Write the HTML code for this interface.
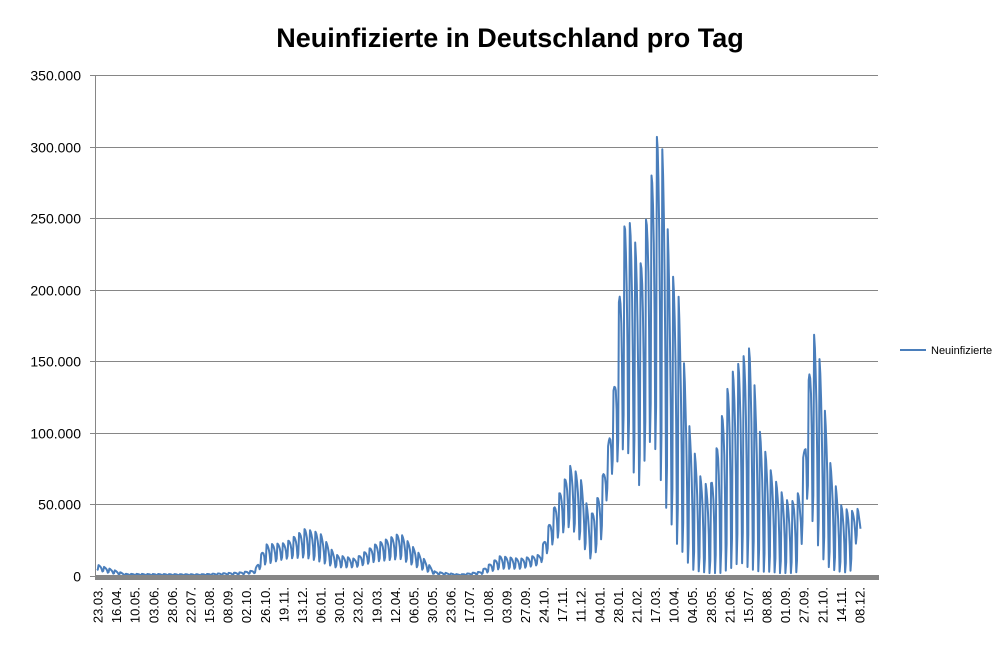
<!DOCTYPE html>
<html><head><meta charset="utf-8"><style>
body{margin:0;background:#fff;width:1007px;height:648px;overflow:hidden;font-family:"Liberation Sans",sans-serif}
</style></head><body>
<svg id="s" width="1007" height="648" xmlns="http://www.w3.org/2000/svg" font-family="Liberation Sans, sans-serif">
<text x="510" y="47" font-size="27" font-weight="bold" text-anchor="middle">Neuinfizierte in Deutschland pro Tag</text>
<g id="grid" stroke="#868686" stroke-width="1"></g>
<g id="yl" font-size="14" text-anchor="end" fill="#000"></g>
<g id="xl" font-size="13" fill="#000"></g>
<line x1="95.5" y1="75" x2="95.5" y2="578" stroke="#868686"/>
<polyline id="p" fill="none" stroke="#4a7ebb" stroke-width="2" stroke-linejoin="round"/>
<rect x="95" y="575" width="784" height="5" fill="#868686"/>
<line x1="900" y1="350" x2="926" y2="350" stroke="#4a7ebb" stroke-width="2"/>
<text x="931" y="354" font-size="11">Neuinfizierte</text>
</svg>
<script>
var ns="http://www.w3.org/2000/svg";
function el(t,a,p,txt){var e=document.createElementNS(ns,t);for(var k in a)e.setAttribute(k,a[k]);if(txt)e.textContent=txt;document.getElementById(p).appendChild(e);return e;}
var y0=576,py=(576-75)/350000;
for(var i=0;i<=7;i++){var y=Math.round(y0-i*50000*py)+0.5;
 if(i>0)el("line",{x1:95,y1:y,x2:878,y2:y},"grid");
 el("line",{x1:90,y1:y,x2:95,y2:y},"grid");
 el("text",{x:81,y:y+5},"yl",i==0?"0":(i*50)+".000");}
var labs="23.03.,16.04.,10.05.,03.06.,28.06.,22.07.,15.08.,08.09.,02.10.,26.10.,19.11.,13.12.,06.01.,30.01.,23.02.,19.03.,12.04.,06.05.,30.05.,23.06.,17.07.,10.08.,03.09.,27.09.,24.10.,17.11.,11.12.,04.01.,28.01.,21.02.,17.03.,10.04.,04.05.,28.05.,21.06.,15.07.,08.08.,01.09.,27.09.,21.10.,14.11.,08.12.".split(",");
var sp=(860-98)/41;
labs.forEach(function(l,i){var x=98+i*sp+4.5;el("text",{x:0,y:0,transform:"translate("+x+",587) rotate(-90)","text-anchor":"end"},"xl",l);});
var env=[[97,8,4],[110,5,2],[125,1.5,0.5],[200,1.2,0.5],[240,2.5,1],[255,4,2],[265,22,8],[285,23,12],[305,33,13],[320,30,10],[335,15,6],[355,12,6],[375,22,10],[400,30,12],[420,15,5],[435,3,1],[460,1,0.5],[480,3,1],[500,14,5],[520,12,5],[540,15,8],[555,50,25],[570,77,35],[580,70,25],[590,40,12],[600,60,20],[608,90,60],[615,140,80],[620,205,80],[625,250,95],[632,245,75],[640,215,62],[648,260,95],[655,300,90],[660,318,70],[665,275,50],[670,215,40],[678,200,20],[685,140,15],[690,100,5],[700,70,3],[710,60,2],[720,105,2],[730,140,5],[740,150,10],[750,160,5],[760,100,3],[770,75,3],[780,60,2],[790,50,2],[800,60,3],[805,95,60],[812,175,40],[820,150,15],[830,80,5],[840,50,3],[850,45,2],[858,47,30],[861,35,30]];
function ip(x,k){if(x<=env[0][0])return env[0][k];for(var i=1;i<env.length;i++){if(x<=env[i][0]){var a=env[i-1],b=env[i],t=(x-a[0])/(b[0]-a[0]);return a[k]+(b[k]-a[k])*t;}}return env[env.length-1][k];}
var f=[0.0,0.15,1,0.95,0.85,0.7,0.45];
var dx=sp/24,pts=[];
for(var d=0;;d++){var x=97+d*dx;if(x>861)break;var mx=ip(x,1),mn=ip(x,2);var v=(mn+(mx-mn)*f[d%7])*1000;pts.push(x.toFixed(1)+","+(y0-v*py).toFixed(1));}
document.getElementById("p").setAttribute("points",pts.join(" "));
</script>
</body></html>
